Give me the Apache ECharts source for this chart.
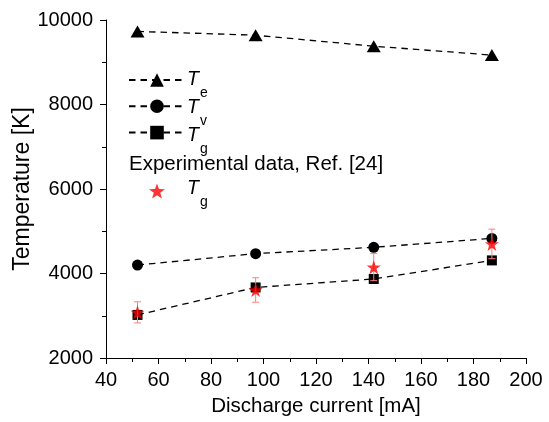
<!DOCTYPE html>
<html><head><meta charset="utf-8">
<script src="https://cdn.jsdelivr.net/npm/echarts@6/dist/echarts.min.js"></script>
<style>html,body{margin:0;padding:0;background:#fff}#c{width:549px;height:422px}</style>
</head><body><div id="c"></div>
<script>
var current = [52, 97, 142, 187];
var Te = [9730, 9640, 9380, 9170];
var Tv = [4200, 4470, 4620, 4830];
var Tg = [3020, 3670, 3870, 4310];
var expTg = [3080, 3610, 4150, 4700];
var expErr = [250, 290, 320, 350];
var xTicks = [40, 60, 80, 100, 120, 140, 160, 180, 200];
var yTicks = [2000, 4000, 6000, 8000, 10000];
var legendNames = ['Te', 'Tv', 'Tg'];
var legendSubs = ['e', 'v', 'g'];
var expTitle = 'Experimental data, Ref. [24]';

var FONT = 'Liberation Sans, Arial, sans-serif';
var star = 'path://M0,-10 L2.35,-3.24 L9.51,-3.09 L3.8,1.24 L5.88,8.09 L0,4 L-5.88,8.09 L-3.8,1.24 L-9.51,-3.09 L-2.35,-3.24 Z';
function pairs(ys){ return current.map(function(x,i){ return [x, ys[i]]; }); }

var lineBase = {
  type: 'line', lineStyle: {color: '#000', width: 1.3, type: [6.5, 5]},
  itemStyle: {color: '#000'}, symbolKeepAspect: false, z: 3
};

// legend label texts (T with subscript)
var rowY = [80, 108, 136];
var graphics = [];
function addLabel(y, sub){
  graphics.push({type: 'text', x: 187, y: y,
    style: {text: 'T', font: 'italic 19.5px ' + FONT, fill: '#000', verticalAlign: 'middle', align: 'left'}});
  graphics.push({type: 'text', x: 200, y: y + 13,
    style: {text: sub, font: '14px ' + FONT, fill: '#000', verticalAlign: 'middle', align: 'left'}});
}
rowY.forEach(function(y, i){ addLabel(y, legendSubs[i]); });
addLabel(189, 'g');
graphics.push({type: 'text', x: 129, y: 164,
  style: {text: expTitle, font: '20.5px ' + FONT, fill: '#000', verticalAlign: 'middle'}});

var chart = echarts.init(document.getElementById('c'));
chart.setOption({
  animation: false,
  grid: {left: 106, right: 23, top: 20, bottom: 64, containLabel: false, outerBoundsMode: 'none'},
  xAxis: {
    type: 'value', min: 40, max: 200, interval: 20,
    name: 'Discharge current [mA]', nameLocation: 'middle', nameGap: 38,
    nameTextStyle: {fontFamily: FONT, fontSize: 20.5, color: '#000'},
    axisLine: {onZero: false, lineStyle: {color: '#000', width: 1}},
    axisTick: {inside: false, length: 6, lineStyle: {color: '#000'}},
    minorTick: {show: true, splitNumber: 2, length: 4, lineStyle: {color: '#000'}},
    axisLabel: {fontFamily: FONT, fontSize: 20, color: '#000', margin: 12,
      formatter: function(v){ return xTicks.indexOf(v) >= 0 ? String(v) : ''; }},
    splitLine: {show: false}
  },
  yAxis: {
    type: 'value', min: 2000, max: 10000, interval: 2000,
    name: 'Temperature [K]', nameLocation: 'middle', nameGap: 72, nameMoveOverlap: false,
    nameTextStyle: {fontFamily: FONT, fontSize: 23, color: '#000'},
    axisLine: {show: true, onZero: false, lineStyle: {color: '#000', width: 1}},
    axisTick: {show: true, inside: false, length: 6, lineStyle: {color: '#000'}},
    minorTick: {show: true, splitNumber: 2, length: 4, lineStyle: {color: '#000'}},
    axisLabel: {fontFamily: FONT, fontSize: 20, color: '#000', margin: 13,
      formatter: function(v){ return yTicks.indexOf(v) >= 0 ? String(v) : ''; }},
    splitLine: {show: false}
  },
  legend: [{
    data: legendNames, orient: 'vertical', left: 128, top: 71.5, padding: 0,
    itemWidth: 56, itemHeight: 17, itemGap: 11,
    formatter: function(){ return ''; }, selectedMode: false
  }, {
    data: ['Exp Tg'], orient: 'vertical', left: 149, top: 183, padding: 0,
    itemWidth: 16, itemHeight: 16,
    formatter: function(){ return ''; }, selectedMode: false
  }],
  graphic: graphics,
  series: [
    Object.assign({}, lineBase, {name: 'Te', data: pairs(Te), symbol: 'triangle', symbolSize: [14, 12]}),
    Object.assign({}, lineBase, {name: 'Tv', data: pairs(Tv), symbol: 'circle', symbolSize: 11}),
    Object.assign({}, lineBase, {name: 'Tg', data: pairs(Tg), symbol: 'rect', symbolSize: 10}),
    {
      type: 'custom', name: 'err', z: 4,
      data: current.map(function(x,i){ return [x, expTg[i] - expErr[i], expTg[i] + expErr[i]]; }),
      renderItem: function(params, api){
        var lo = api.coord([api.value(0), api.value(1)]);
        var hi = api.coord([api.value(0), api.value(2)]);
        var w = 3.5;
        var st = {stroke: '#ff8080', lineWidth: 1};
        return {type: 'group', children: [
          {type: 'line', shape: {x1: lo[0], y1: lo[1], x2: hi[0], y2: hi[1]}, style: st},
          {type: 'line', shape: {x1: lo[0]-w, y1: lo[1], x2: lo[0]+w, y2: lo[1]}, style: st},
          {type: 'line', shape: {x1: hi[0]-w, y1: hi[1], x2: hi[0]+w, y2: hi[1]}, style: st}
        ]};
      }
    },
    {type: 'scatter', name: 'Exp Tg', data: pairs(expTg), symbol: star, symbolSize: 14,
      itemStyle: {color: '#ff0000'}, z: 5}
  ]
});
</script></body></html>
